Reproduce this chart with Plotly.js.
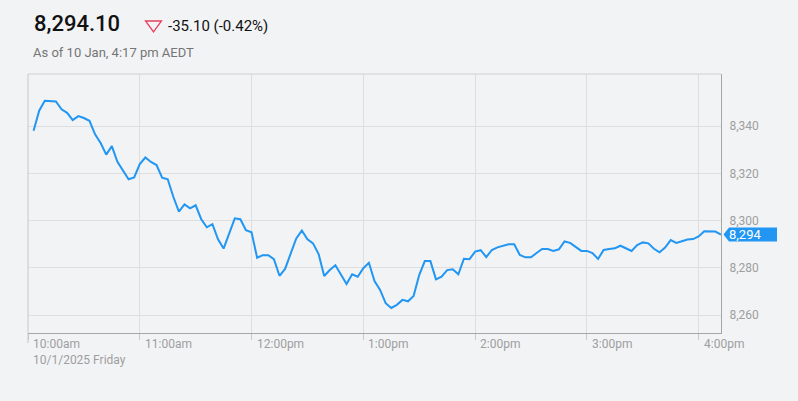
<!DOCTYPE html>
<html>
<head>
<meta charset="utf-8">
<script src="https://cdn.plot.ly/plotly-3.0.1.min.js"></script>
<style>
html,body{margin:0;padding:0;background:#f2f3f5;}
#chart{width:798px;height:401px;}
</style>
</head>
<body>
<div id="chart"></div>
<script>
var day = '2025-01-10 ';
var times = [
'10:03','10:06','10:09','10:12','10:15','10:18','10:21','10:24','10:27','10:30',
'10:33','10:36','10:39','10:42','10:45','10:48','10:51','10:54','10:57','11:00',
'11:03','11:06','11:09','11:12','11:15','11:18','11:21','11:24','11:27','11:30',
'11:33','11:36','11:39','11:42','11:45','11:48','11:51','11:54','11:57','12:00',
'12:03','12:06','12:09','12:12','12:15','12:18','12:21','12:24','12:27','12:30',
'12:33','12:36','12:39','12:42','12:45','12:48','12:51','12:54','12:57','13:00',
'13:03','13:06','13:09','13:12','13:15','13:18','13:21','13:24','13:27','13:30',
'13:33','13:36','13:39','13:42','13:45','13:48','13:51','13:54','13:57','14:00',
'14:03','14:06','14:09','14:12','14:15','14:18','14:21','14:24','14:27','14:30',
'14:33','14:36','14:39','14:42','14:45','14:48','14:51','14:54','14:57','15:00',
'15:03','15:06','15:09','15:12','15:15','15:18','15:21','15:24','15:27','15:30',
'15:33','15:36','15:39','15:42','15:45','15:48','15:51','15:54','15:57','16:00',
'16:03','16:06','16:09','16:12'
];
var prices = [
8338.0,8346.5,8350.7,8350.4,8350.4,8347.1,8345.6,8342.5,8344.2,8343.4,
8342.2,8336.5,8332.8,8327.9,8331.5,8324.9,8321.4,8317.5,8318.3,8323.9,
8326.7,8324.8,8323.5,8318.2,8317.5,8310.1,8303.8,8306.9,8305.2,8306.5,
8300.6,8297.2,8298.5,8292.1,8288.2,8294.7,8301.0,8300.6,8296.0,8295.1,
8284.3,8285.4,8285.4,8283.7,8276.7,8279.6,8286.2,8292.5,8295.8,8292.1,
8290.4,8285.9,8276.6,8279.1,8281.1,8277.0,8273.2,8277.3,8276.3,8279.9,
8282.2,8274.5,8270.7,8265.1,8263.1,8264.4,8266.5,8265.9,8268.2,8277.0,
8282.9,8282.9,8275.2,8276.3,8279.1,8279.4,8277.3,8283.9,8283.7,8286.9,
8287.5,8284.6,8287.6,8288.7,8289.2,8290.0,8290.0,8285.5,8284.5,8284.5,
8286.3,8288.0,8288.0,8287.2,8287.9,8291.2,8290.6,8288.7,8287.2,8287.2,
8286.3,8283.8,8287.6,8288.0,8288.3,8289.4,8288.3,8287.2,8289.7,8290.8,
8290.4,8288.1,8286.6,8288.6,8291.8,8290.6,8291.3,8292.0,8292.2,8293.3,
8295.5,8295.5,8295.4,8294.1
];
var hourTicks = ['10:00','11:00','12:00','13:00','14:00','15:00','16:00'];
var hourLabels = ['10:00am<br>10/1/2025 Friday','11:00am','12:00pm','1:00pm','2:00pm','3:00pm','4:00pm'];
var yTicks = [8260, 8280, 8300, 8320, 8340];
var xRange = ['10:00','16:12'];
var yRange = [8252.5, 8362];
var headline = {price:'8,294.10', change:'-35.10 (-0.42%)', asof:'As of 10 Jan, 4:17 pm AEDT'};

var fmt = function(v){ return Math.round(v).toLocaleString('en-US'); };
var lastPrice = prices[prices.length-1];
var FONT = 'Roboto, "Noto Sans", sans-serif';

var trace = {
  x: times.map(function(t){return day+t;}),
  y: prices,
  type: 'scatter', mode: 'lines',
  line: {color:'#2196f3', width:2},
  hoverinfo: 'skip'
};

var annotations = hourTicks.map(function(t,i){
  return {x: day+t, xref:'x', y:0, yref:'paper', yanchor:'top', xanchor:'left',
    xshift:3, yshift:-2, align:'left', showarrow:false, text:hourLabels[i],
    font:{family:FONT, size:12, color:'#9e9e9e'}};
});
annotations.push({x:1, xref:'paper', xanchor:'left', xshift:6, y:lastPrice, yref:'y', yanchor:'middle',
  showarrow:false, text:fmt(lastPrice), font:{family:FONT, size:13, color:'#ffffff'}});
annotations.push({x:(32-28)/693, xref:'paper', xanchor:'left', y:(333-23.5)/259, yref:'paper', yanchor:'middle',
  showarrow:false, text:headline.price, font:{family:FONT, size:22, color:'#111111', weight:500}});
annotations.push({x:(166-28)/693, xref:'paper', xanchor:'left', y:(333-26)/259, yref:'paper', yanchor:'middle',
  showarrow:false, text:headline.change, font:{family:FONT, size:15, color:'#111111'}});
annotations.push({x:(31-28)/693, xref:'paper', xanchor:'left', y:(333-52.5)/259, yref:'paper', yanchor:'middle',
  showarrow:false, text:headline.asof, font:{family:FONT, size:13, color:'#757575'}});

var shapes = [
  {type:'line', xref:'paper', yref:'paper', x0:0, x1:1, y0:1, y1:1, line:{color:'#d0d0d0', width:1}},
  {type:'line', xref:'paper', yref:'paper', x0:0, x1:0, y0:1, y1:-10/259, line:{color:'#c8c8c8', width:1}},
  {type:'path', xref:'paper', xsizemode:'pixel', xanchor:1, yref:'y', ysizemode:'pixel', yanchor:lastPrice,
    path:'M 2.5,0 L 8,7 L 56,7 L 56,-7 L 8,-7 Z', fillcolor:'#2196f3', line:{width:0}},
  {type:'path', xref:'paper', xsizemode:'pixel', xanchor:(153.5-28)/693, yref:'paper', ysizemode:'pixel', yanchor:(333-26.5)/259,
    path:'M -8,5.5 L 8,5.5 L 0,-5.5 Z', fillcolor:'rgba(0,0,0,0)', line:{color:'#e5405e', width:1.3}}
];

var layout = {
  width:798, height:401,
  margin:{l:28, r:77, t:74, b:68, pad:0},
  paper_bgcolor:'#f2f3f5', plot_bgcolor:'#f2f3f5',
  showlegend:false,
  font:{family:FONT},
  xaxis:{type:'date', range:[day+xRange[0], day+xRange[1]], tickvals:hourTicks.map(function(t){return day+t;}),
    showticklabels:false, ticks:'outside', ticklen:6, tickcolor:'#c8c8c8',
    showgrid:true, gridcolor:'#dedede', gridwidth:1, showline:true, linecolor:'#a6a6a6', linewidth:1,
    zeroline:false, fixedrange:true},
  yaxis:{side:'right', range:yRange, tickvals:yTicks, ticktext:yTicks.map(fmt),
    ticks:'', ticklabelstandoff:5, tickfont:{family:FONT, size:12, color:'#9e9e9e'},
    showgrid:true, gridcolor:'#dedede', gridwidth:1, showline:true, linecolor:'#a6a6a6', linewidth:1,
    zeroline:false, fixedrange:true},
  annotations:annotations,
  shapes:shapes
};

Plotly.newPlot('chart', [trace], layout, {displayModeBar:false, staticPlot:true});
</script>
</body>
</html>
